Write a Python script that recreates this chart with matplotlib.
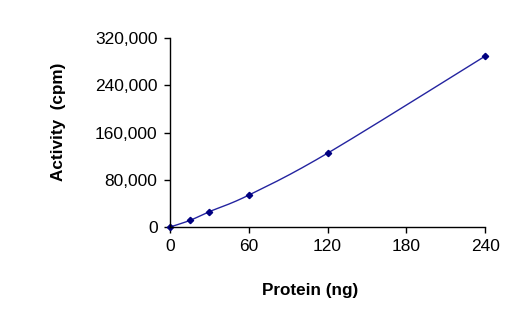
import numpy as np
import matplotlib
matplotlib.use('Agg')
import matplotlib.pyplot as plt
from matplotlib.ticker import FuncFormatter

plt.rcParams['font.family'] = ['Liberation Sans', 'DejaVu Sans']

# data
protein_ng = [0, 15, 30, 60, 120, 240]
activity_cpm = [0, 11000, 26000, 54000, 125000, 289500]
x_ticks = [0, 60, 120, 180, 240]
y_ticks = [0, 80000, 160000, 240000, 320000]


def smooth_line(xs, ys, n=30):
    # Excel style smoothed line: cubic Bezier segments through the points
    xs = np.asarray(xs, float)
    ys = np.asarray(ys, float)
    px, py = [], []
    for i in range(len(xs) - 1):
        x0, y0 = (xs[i - 1], ys[i - 1]) if i > 0 else (xs[i], ys[i])
        x3, y3 = (xs[i + 2], ys[i + 2]) if i + 2 < len(xs) else (xs[i + 1], ys[i + 1])
        c1x = xs[i] + (xs[i + 1] - x0) / 6
        c1y = ys[i] + (ys[i + 1] - y0) / 6
        c2x = xs[i + 1] - (x3 - xs[i]) / 6
        c2y = ys[i + 1] - (y3 - ys[i]) / 6
        t = np.linspace(0, 1, n)
        px.extend((1 - t) ** 3 * xs[i] + 3 * (1 - t) ** 2 * t * c1x
                  + 3 * (1 - t) * t ** 2 * c2x + t ** 3 * xs[i + 1])
        py.extend((1 - t) ** 3 * ys[i] + 3 * (1 - t) ** 2 * t * c1y
                  + 3 * (1 - t) * t ** 2 * c2y + t ** 3 * ys[i + 1])
    return px, py


fig = plt.figure(figsize=(5.28, 3.28), dpi=100)
ax = fig.add_axes([0.322, 0.308, 0.597, 0.576])

sx, sy = smooth_line(protein_ng, activity_cpm)
ax.plot(sx, sy, color='#2424a0', linewidth=1, clip_on=False)
ax.plot(protein_ng, activity_cpm, linestyle='none', marker='D', markersize=3.2,
        color='#000080', clip_on=False)

ax.set_xlim(0, 240)
ax.set_ylim(0, 320000)
ax.set_xticks(x_ticks)
ax.set_yticks(y_ticks)
ax.yaxis.set_major_formatter(FuncFormatter(lambda v, p: '{:,.0f}'.format(v)))

for s in ['top', 'right']:
    ax.spines[s].set_visible(False)
for s in ['left', 'bottom']:
    ax.spines[s].set_linewidth(1)
ax.tick_params(direction='out', length=4, width=1, labelsize=12.5, pad=5)

# axis titles placed where the reference has them
fig.text(310 / 528, 1 - 290 / 328, 'Protein (ng)', fontsize=12.3,
         fontweight='bold', ha='center', va='center')
fig.text(58 / 528, 1 - 122 / 328, 'Activity  (cpm)', fontsize=12.3,
         fontweight='bold', ha='center', va='center', rotation=90)

fig.savefig('out.png', dpi=100)
